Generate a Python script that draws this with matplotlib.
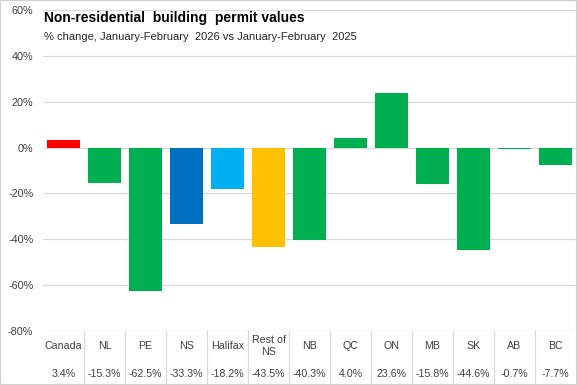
import matplotlib
matplotlib.use("Agg")
import matplotlib.pyplot as plt
from matplotlib.lines import Line2D
from matplotlib.patches import Rectangle

categories = ["Canada", "NL", "PE", "NS", "Halifax", "Rest of\nNS", "NB", "QC", "ON", "MB", "SK", "AB", "BC"]
values = [3.4, -15.3, -62.5, -33.3, -18.2, -43.5, -40.3, 4.0, 23.6, -15.8, -44.6, -0.7, -7.7]
colors = ["#FF0000", "#00B050", "#00B050", "#0070C0", "#00B0F0", "#FFC000", "#00B050",
          "#00B050", "#00B050", "#00B050", "#00B050", "#00B050", "#00B050"]
yticks = [60, 40, 20, 0, -20, -40, -60, -80]

plt.rcParams['font.family'] = ['Liberation Sans', 'DejaVu Sans']

W, H = 577, 385
fig = plt.figure(figsize=(W/100, H/100), dpi=100)
left, right = 43/W, 576/W
bottom, top = (H-331)/H, (H-10)/H
ax = fig.add_axes([left, bottom, right-left, top-bottom])

n = len(categories)
x = list(range(n))
ax.bar(x, values, width=0.82, color=colors, zorder=3)
ax.set_xlim(-0.5, n-0.5)
ax.set_ylim(-80, 60)
ax.set_yticks(yticks)
ax.set_yticklabels([f"{t}%" for t in yticks], fontsize=7.8, color="#404040")
ax.yaxis.grid(True, color="#D9D9D9", linewidth=0.9, zorder=0)
ax.tick_params(axis='y', length=0, pad=7)
ax.set_xticks([])
for s in ax.spines.values():
    s.set_visible(False)

# Table under chart
tb = ax.get_xaxis_transform()
for i in range(1, n):
    ax.add_line(Line2D([i-0.5, i-0.5], [0, -(H-331)/(331-10)], transform=tb,
                       color="#D9D9D9", linewidth=0.9, clip_on=False))
row1 = -(346-331)/(331-10)
row2 = -(374-331)/(331-10)
for i, (c, v) in enumerate(zip(categories, values)):
    ax.text(i, row1, c, transform=tb, ha="center", va="center", fontsize=7.7,
            color="#404040", linespacing=1.3)
    ax.text(i, row2, f"{v:.1f}%", transform=tb, ha="center", va="center", fontsize=7.7,
            color="#404040")

fig.text(44/W, 1-18/H, "Non-residential  building  permit values", fontsize=10,
         fontweight="bold", ha="left", va="center", color="#000000")
fig.text(44/W, 1-37/H, "% change, January-February  2026 vs January-February  2025", fontsize=8,
         ha="left", va="center", color="#262626")

fig.patches.append(Rectangle((0, 0), 1, 1, transform=fig.transFigure, fill=False,
                             edgecolor="#D0D0D0", linewidth=1.5))

fig.savefig("out.png", dpi=100)
